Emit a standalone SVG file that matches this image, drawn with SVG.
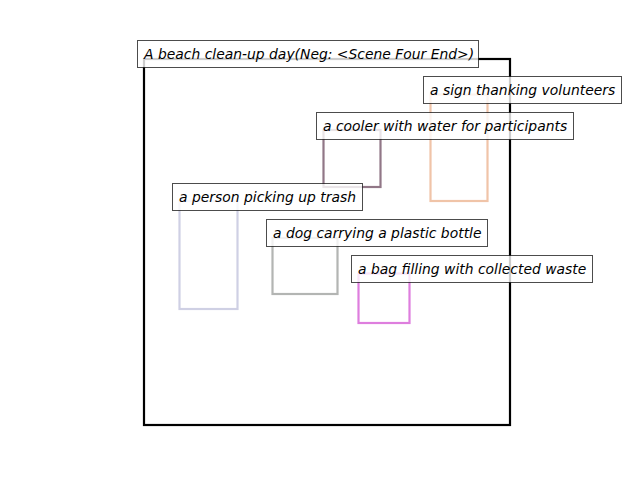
<svg xmlns="http://www.w3.org/2000/svg" width="640" height="480" viewBox="0 0 640 480">
<style>
.obj{fill:none;stroke-width:2.2}
.lb rect{fill:#fff;fill-opacity:0.8;stroke:#000;stroke-opacity:0.7;stroke-width:1}
.lb text{font-family:"DejaVu Sans",sans-serif;font-style:italic;font-size:13.9px;fill:#000}
</style>
<rect x="0" y="0" width="640" height="480" fill="#fff"/>
<g id="frame"><rect x="144" y="59" width="366" height="366" fill="none" stroke="#000" stroke-width="2.2"/></g>
<g id="objects">
<rect id="obj-sign" class="obj" x="430.5" y="94.5" width="57" height="106.5" stroke="#f0c4a8"/>
<rect id="obj-cooler" class="obj" x="323.5" y="130" width="57" height="57" stroke="#917787"/>
<rect id="obj-person" class="obj" x="179.5" y="201" width="58" height="108" stroke="#cfd0e4"/>
<rect id="obj-dog" class="obj" x="272.5" y="238" width="65" height="56" stroke="#b3b5b3"/>
<rect id="obj-bag" class="obj" x="358.5" y="273.5" width="51" height="49.5" stroke="#de7ede"/>
</g>
<g id="label-title" class="lb"><rect x="137.5" y="40.5" width="341" height="27"/><text x="144" y="58.5">A beach clean-up day(Neg: &lt;Scene Four End&gt;)</text></g>
<g id="label-sign" class="lb"><rect x="423.5" y="76.5" width="198" height="27"/><text x="430" y="94.5">a sign thanking volunteers</text></g>
<g id="label-cooler" class="lb"><rect x="316.5" y="112.5" width="257" height="27"/><text x="323" y="130.5">a cooler with water for participants</text></g>
<g id="label-person" class="lb"><rect x="172.5" y="183.5" width="190" height="27"/><text x="179" y="201.5">a person picking up trash</text></g>
<g id="label-dog" class="lb"><rect x="266.5" y="219.5" width="221" height="27"/><text x="273" y="237.5">a dog carrying a plastic bottle</text></g>
<g id="label-bag" class="lb"><rect x="351.5" y="255.5" width="241" height="27"/><text x="358" y="273.5">a bag filling with collected waste</text></g>
</svg>
